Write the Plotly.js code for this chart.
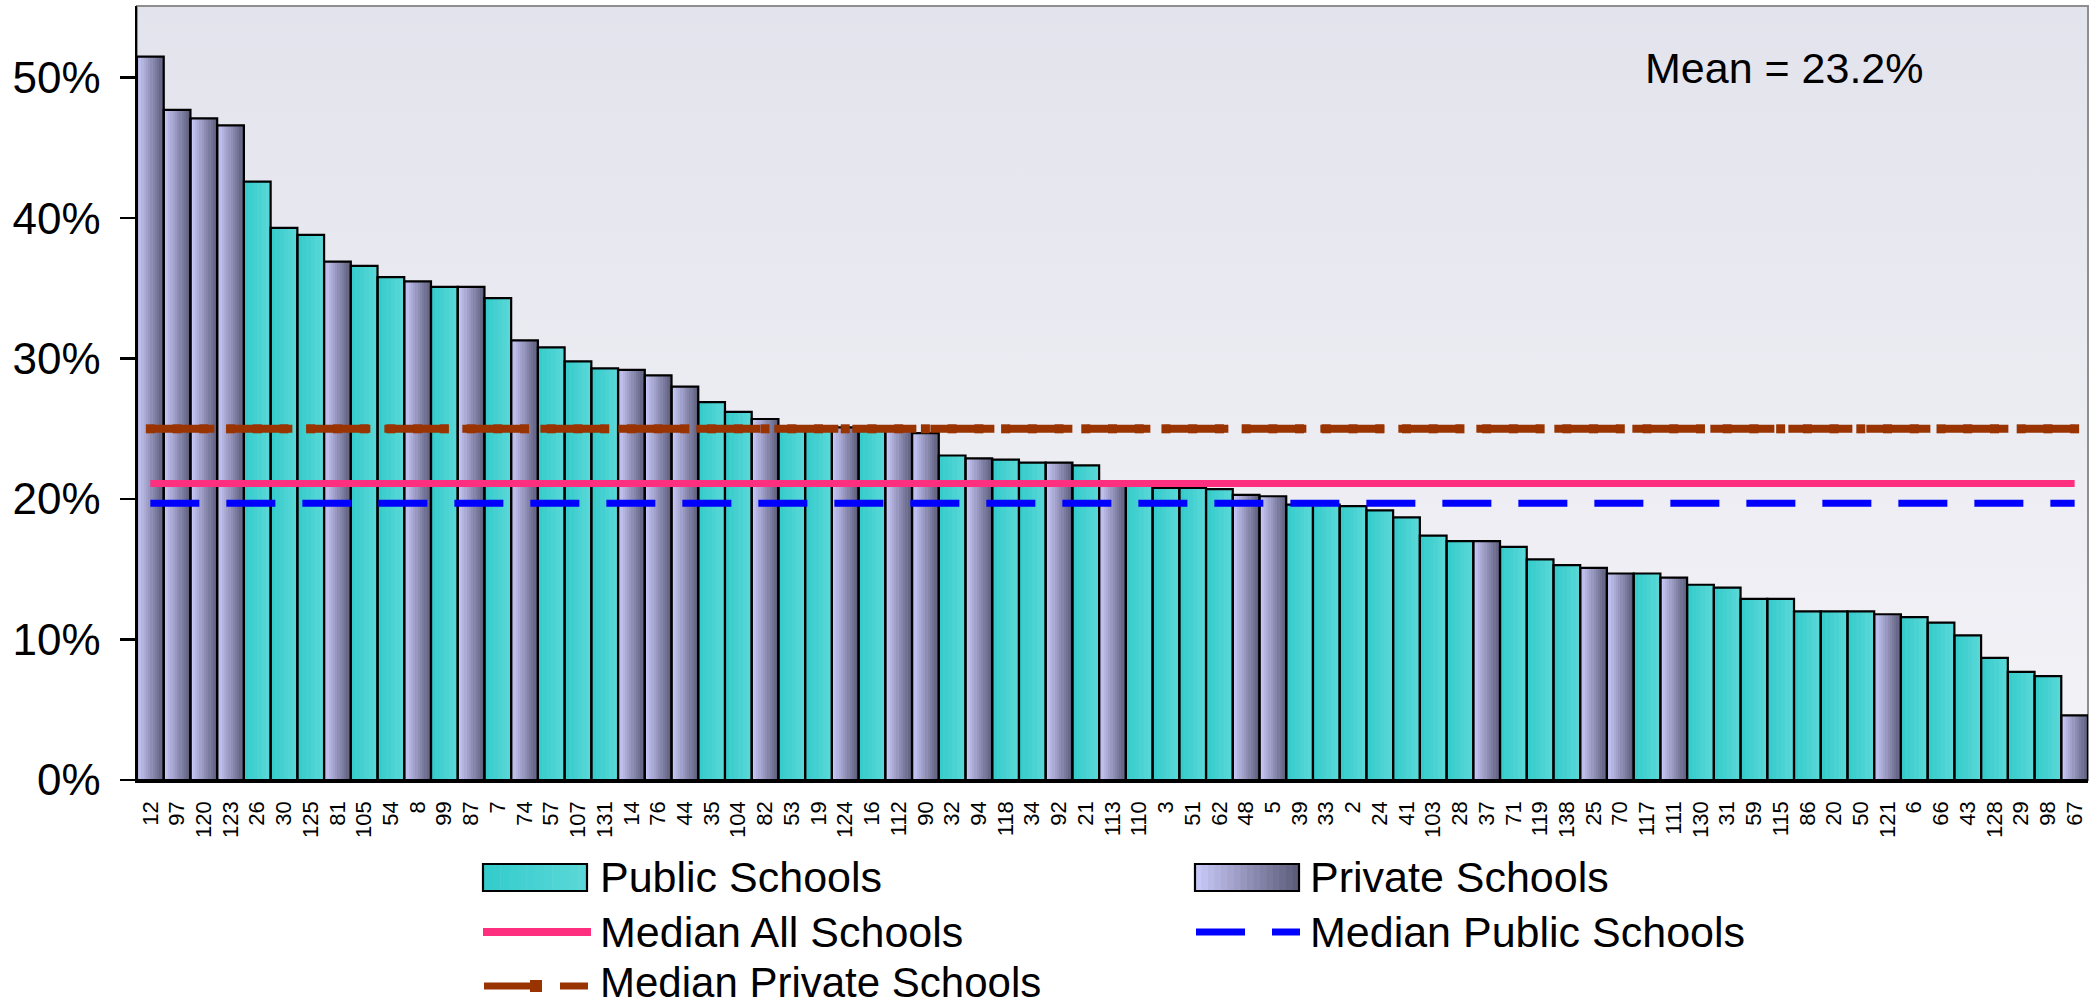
<!DOCTYPE html>
<html>
<head>
<meta charset="utf-8">
<script src="https://cdn.plot.ly/plotly-3.0.1.min.js"></script>
<style>
html,body{margin:0;padding:0;background:#ffffff;}
#chart{width:2095px;height:1008px;}
</style>
</head>
<body>
<div id="chart"></div>
<script>
// ---------------- DATA ----------------
const schools = ['12','97','120','123','26','30','125','81','105','54',
  '8','99','87','7','74','57','107','131','14','76',
  '44','35','104','82','53','19','124','16','112','90',
  '32','94','118','34','92','21','113','110','3','51',
  '62','48','5','39','33','2','24','41','103','28',
  '37','71','119','138','25','70','117','111','130','31',
  '59','115','86','20','50','121','6','66','43','128',
  '29','98','67'];

const rates = [0.515,0.477,0.471,0.466,0.426,0.393,0.388,0.369,0.366,0.358,
  0.355,0.351,0.351,0.343,0.313,0.308,0.298,0.293,0.292,0.288,
  0.280,0.269,0.262,0.257,0.252,0.252,0.251,0.251,0.250,0.247,
  0.231,0.229,0.228,0.226,0.226,0.224,0.211,0.210,0.208,0.208,
  0.207,0.203,0.202,0.196,0.196,0.195,0.192,0.187,0.174,0.170,
  0.170,0.166,0.157,0.153,0.151,0.147,0.147,0.144,0.139,0.137,
  0.129,0.129,0.120,0.120,0.120,0.118,0.116,0.112,0.103,0.087,
  0.077,0.074,0.046];

const sector = ['Private','Private','Private','Private','Public','Public','Public','Private','Public','Public',
  'Private','Public','Private','Public','Private','Public','Public','Public','Private','Private',
  'Private','Public','Public','Private','Public','Public','Private','Public','Private','Private',
  'Public','Private','Public','Public','Private','Public','Private','Public','Public','Public',
  'Public','Private','Private','Public','Public','Public','Public','Public','Public','Public',
  'Private','Public','Public','Public','Private','Private','Public','Private','Public','Public',
  'Public','Public','Public','Public','Public','Private','Public','Public','Public','Public',
  'Public','Public','Private'];

const medianAllSchools = 0.211;
const medianPublicSchools = 0.197;
const medianPrivateSchools = 0.250;
const meanText = 'Mean = 23.2%';
const yTickVals = [0, 0.1, 0.2, 0.3, 0.4, 0.5];

const legendNames = {
  pub: 'Public Schools', priv: 'Private Schools',
  all: 'Median All Schools', pubMed: 'Median Public Schools', privMed: 'Median Private Schools'
};

// ---------------- STYLE / GEOMETRY ----------------
const W = 2095, H = 1008;
const L = 137, R = 2088, T = 6, B = 780;
const px = X => (X - L) / (R - L);
const py = Y => (B - Y) / (B - T);
const FONT = 'Liberation Sans, Arial, Helvetica, sans-serif';

const PRIV_C0 = [204, 204, 252], PRIV_C1 = [90, 90, 120];
const PUB_C0 = [50, 203, 203], PUB_C1 = [92, 216, 216];
const PINK = '#ff2f80', BLUE = '#0000ff', BROWN = '#993300';

function mix(a, b, t) {
  const c = a.map((v, i) => Math.round(v + (b[i] - v) * t));
  return 'rgb(' + c.join(',') + ')';
}

const traces = [];
function addGradientBars(type, c0, c1, n) {
  const xs = [], ys = [];
  schools.forEach((s, i) => { if (sector[i] === type) { xs.push(s); ys.push(rates[i]); } });
  for (let k = 0; k < n; k++) {
    traces.push({
      type: 'bar', x: xs, y: ys,
      width: (k < n - 1) ? 1 / n + 0.01 : 1 / n,
      offset: -0.5 + k / n,
      marker: { color: mix(c0, c1, (k + 0.5) / n), line: { width: 0 } },
      showlegend: false, hoverinfo: 'skip'
    });
  }
}
addGradientBars('Public', PUB_C0, PUB_C1, 6);
addGradientBars('Private', PRIV_C0, PRIV_C1, 12);

// outlines
traces.push({
  type: 'bar', x: schools, y: rates,
  marker: { color: 'rgba(0,0,0,0)', line: { color: '#000', width: 2.2 } },
  showlegend: false, hoverinfo: 'x+y'
});

// median lines
traces.push({
  type: 'scatter', mode: 'lines', x: schools, y: schools.map(() => medianAllSchools),
  line: { color: PINK, width: 7 }, name: legendNames.all, showlegend: false
});
traces.push({
  type: 'scatter', mode: 'lines', x: schools, y: schools.map(() => medianPublicSchools),
  line: { color: BLUE, width: 7, dash: '49px,27px' }, name: legendNames.pubMed, showlegend: false
});
traces.push({
  type: 'scatter', mode: 'lines+markers', x: schools, y: schools.map(() => medianPrivateSchools),
  line: { color: BROWN, width: 8, dash: '64px,14px' },
  marker: { symbol: 'square', size: 9, color: BROWN },
  name: legendNames.privMed, showlegend: false
});

// ---------------- CUSTOM LEGEND ----------------
const shapes = [];
const annotations = [];

// border (top/right grey)
shapes.push({ type: 'rect', xref: 'paper', yref: 'paper', x0: 0, x1: 1, y0: 0, y1: 1,
  line: { color: '#8e8e8e', width: 2 }, layer: 'below' });

function gradSwatch(x0, x1, y0, y1, c0, c1, n) {
  for (let k = 0; k < n; k++) {
    const a = x0 + (x1 - x0) * k / n, b = x0 + (x1 - x0) * (k + 1) / n + 0.5;
    shapes.push({ type: 'rect', xref: 'paper', yref: 'paper', x0: px(a), x1: px(b), y0: py(y1), y1: py(y0),
      fillcolor: mix(c0, c1, (k + 0.5) / n), line: { width: 0 } });
  }
  shapes.push({ type: 'rect', xref: 'paper', yref: 'paper', x0: px(x0), x1: px(x1), y0: py(y1), y1: py(y0),
    fillcolor: 'rgba(0,0,0,0)', line: { color: '#000', width: 2.2 } });
}
function hLine(x0, x1, y, color, width, dash) {
  shapes.push({ type: 'line', xref: 'paper', yref: 'paper', x0: px(x0), x1: px(x1), y0: py(y), y1: py(y),
    line: { color: color, width: width, dash: dash || 'solid' } });
}
function legendText(x, y, text, size) {
  annotations.push({ xref: 'paper', yref: 'paper', x: px(x), y: py(y), text: text, showarrow: false,
    xanchor: 'left', yanchor: 'middle', font: { family: FONT, size: size || 43, color: '#000' } });
}

const row1 = 877, row2 = 932, row3 = 983;
gradSwatch(483, 587, 864, 891, PUB_C0, PUB_C1, 12);
legendText(598, row1, legendNames.pub);
gradSwatch(1195, 1299, 864, 891, PRIV_C0, PRIV_C1, 16);
legendText(1308, row1, legendNames.priv);

hLine(483, 591, row2, PINK, 8);
legendText(598, row2, legendNames.all);
hLine(1196, 1245, row2, BLUE, 7);
hLine(1272, 1300, row2, BLUE, 7);
legendText(1308, row2, legendNames.pubMed);

hLine(484, 533, row3 + 3, BROWN, 7);
shapes.push({ type: 'rect', xref: 'paper', yref: 'paper', x0: px(530), x1: px(542), y0: py(row3 + 9), y1: py(row3 - 3),
  fillcolor: BROWN, line: { width: 0 } });
hLine(560, 588, row3 + 3, BROWN, 7);
legendText(598, row3, legendNames.privMed, 42);

// mean annotation
annotations.push({ xref: 'paper', yref: 'paper', x: px(1784), y: py(68), text: meanText, showarrow: false,
  xanchor: 'center', yanchor: 'middle', font: { family: FONT, size: 43, color: '#000' } });

// background gradient image
const bgSvg = '<svg xmlns="http://www.w3.org/2000/svg" width="100" height="100" preserveAspectRatio="none">' +
  '<defs><linearGradient id="g" x1="0" y1="0" x2="0" y2="1">' +
  '<stop offset="0" stop-color="#e3e3ed"/><stop offset="1" stop-color="#f3f3f7"/></linearGradient></defs>' +
  '<rect width="100" height="100" fill="url(#g)"/></svg>';

const layout = {
  width: W, height: H,
  margin: { l: L, r: W - R, t: T, b: H - B, pad: 0 },
  paper_bgcolor: '#ffffff',
  plot_bgcolor: '#ebebf2',
  barmode: 'overlay', bargap: 0,
  font: { family: FONT, color: '#000' },
  showlegend: false,
  xaxis: {
    type: 'category', categoryorder: 'array', categoryarray: schools,
    range: [-0.5, schools.length - 0.5],
    tickmode: 'linear', tick0: 0, dtick: 1,
    tickangle: -90, tickfont: { family: FONT, size: 22, color: '#000' },
    ticks: '', showline: true, linecolor: '#000', linewidth: 2.5,
    showgrid: false, zeroline: false, ticklabelstandoff: 10, fixedrange: true
  },
  yaxis: {
    range: [0, 0.551], tickvals: yTickVals, tickformat: '.0%',
    ticks: 'outside', ticklen: 15, tickwidth: 2.5, tickcolor: '#000',
    showline: true, linecolor: '#000', linewidth: 2.5,
    showgrid: false, zeroline: false,
    tickfont: { family: FONT, size: 44, color: '#000' }, ticklabelstandoff: 10, fixedrange: true
  },
  images: [{
    source: 'data:image/svg+xml;charset=utf-8,' + encodeURIComponent(bgSvg),
    xref: 'paper', yref: 'paper', x: 0, y: 1, sizex: 1, sizey: 1,
    sizing: 'stretch', xanchor: 'left', yanchor: 'top', layer: 'below'
  }],
  shapes: shapes,
  annotations: annotations
};

Plotly.newPlot('chart', traces, layout, { displayModeBar: false, staticPlot: true });
</script>
</body>
</html>
